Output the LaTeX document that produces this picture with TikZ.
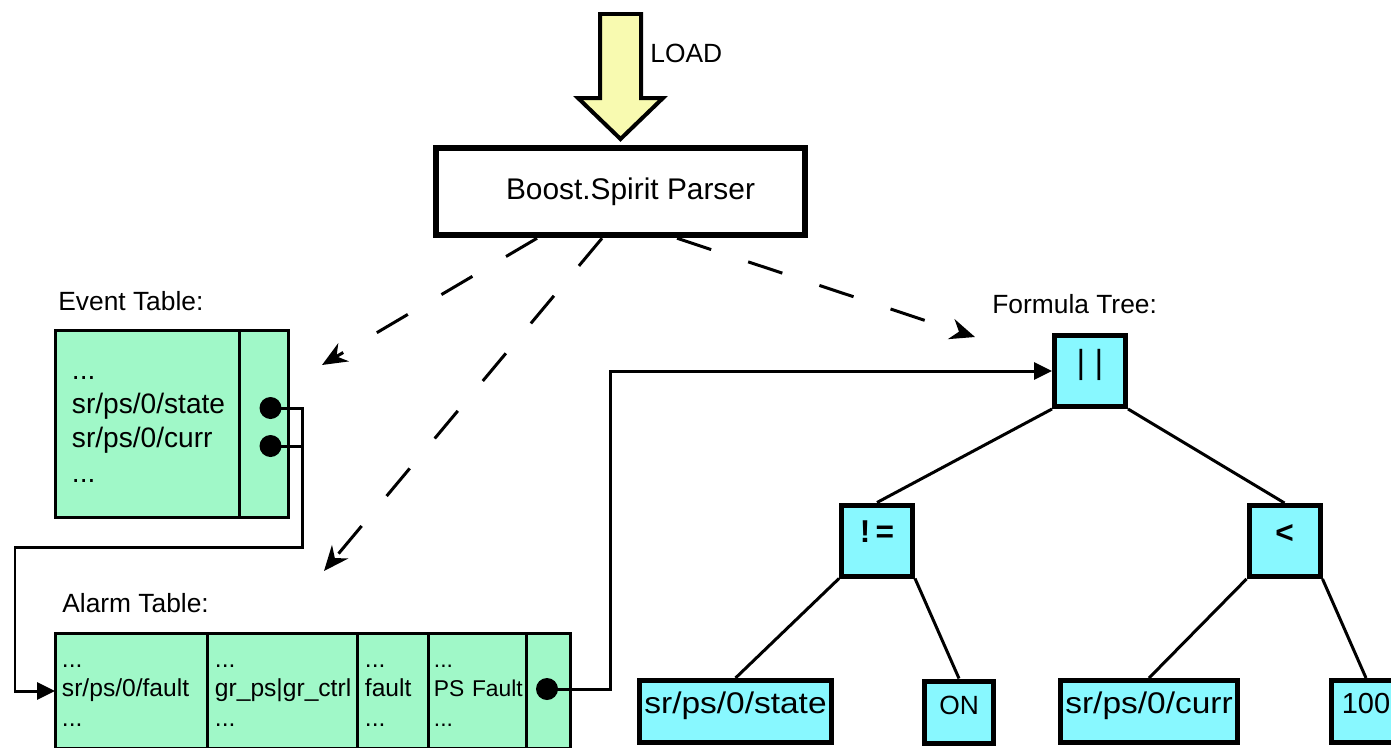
\documentclass[tikz,border=0pt]{standalone}
\usepackage{fontspec}
\setmainfont{Liberation Sans}
\newfontfamily\leaffont[FakeStretch=1.12]{Liberation Sans}
\usetikzlibrary{positioning,arrows.meta}
\definecolor{mint}{RGB}{160,248,200}
\definecolor{treecyan}{RGB}{136,248,255}
\definecolor{loadyellow}{RGB}{248,250,176}

\begin{document}
\begin{tikzpicture}[
        x=0.02cm, y=-0.02cm,
        tablabel/.style={anchor=base west, inner sep=0pt, font=\fontsize{15}{18}\selectfont},
        parserbox/.style={rectangle, draw=black, line width=0.13cm, fill=white, minimum width=7.38cm, minimum height=1.74cm, font=\fontsize{17}{20}\selectfont},
        tabcell/.style={rectangle, draw=black, line width=0.06cm, fill=mint, outer sep=0pt, align=left, inner xsep=0.14cm, inner ysep=0pt, font=\fontsize{14}{17}\selectfont},
        plug/.style={circle, fill=black, inner sep=0pt, minimum size=0.44cm},
        opbox/.style={rectangle, draw=black, line width=0.1cm, fill=treecyan, minimum size=1.42cm, text height=0.3cm, text depth=0.22cm, font=\bfseries\fontsize{18}{20}\selectfont},
        leafbox/.style={rectangle, draw=black, line width=0.1cm, fill=treecyan, minimum height=1.24cm, inner xsep=0pt, text height=0.3cm, text depth=0.22cm, font=\leaffont\fontsize{17}{20}\selectfont},
        treeline/.style={draw, line width=0.06cm},
        wire/.style={draw, line width=0.06cm},
        wirearrow/.style={wire, -{Triangle[length=0.36cm, width=0.34cm]}},
        dasharrow/.style={line width=0.06cm, dash pattern=on 0.72cm off 0.78cm, -{Stealth[length=0.5cm, width=0.42cm]}}
    ]
        \useasboundingbox (0,0) rectangle (1391,747);

        % load arrow and parser
        \draw[line width=0.08cm, fill=loadyellow] (600,14) -- (641,14) -- (641,98) -- (663,98) -- (620.5,139) -- (578,98) -- (600,98) -- cycle;
        \node[tablabel] (loadtxt) at (650,62) {LOAD};
        \node[parserbox] (parser) at (620.5,191.5) {\hspace*{0.4cm}Boost.Spirit Parser};

        % event table
        \node[tabcell, anchor=north west, minimum width=3.7cm, minimum height=3.76cm, text width=3.02cm, inner xsep=0.34cm, font=\fontsize{16}{19.5}\selectfont] (et1) at (55,330) {\strut...\\sr/ps/0/state\\sr/ps/0/curr\\...\strut};
        \node[tabcell, right=0pt of et1, minimum width=0.98cm, minimum height=3.76cm] (et2) {};
        \node[plug] (estate) at (270.5,408) {};
        \node[plug] (ecurr) at (270.5,446) {};
        \node[tablabel] (etcap) at ([xshift=0.06cm, yshift=0.4cm]et1.north west) {Event Table:};

        % alarm table
        \node[tabcell, anchor=north west, minimum width=3.06cm, minimum height=2.32cm, text width=2.78cm] (at1) at (55,633) {\strut...\\sr/ps/0/fault\\...\strut};
        \node[tabcell, right=0pt of at1, minimum width=3.0cm, minimum height=2.32cm, text width=2.72cm] (at2) {\strut...\\gr\_ps|gr\_ctrl\\...\strut};
        \node[tabcell, right=0pt of at2, minimum width=1.42cm, minimum height=2.32cm, text width=1.14cm] (at3) {\strut...\\fault\\...\strut};
        \node[tabcell, right=0pt of at3, minimum width=1.96cm, minimum height=2.32cm, text width=1.76cm, inner xsep=0.1cm, font=\fontsize{13}{17}\selectfont] (at4) {\strut...\\PS~Fault\\...\strut};
        \node[tabcell, right=0pt of at4, minimum width=0.88cm, minimum height=2.32cm] (at5) {};
        \node[plug] (adot) at (547,689) {};
        \node[tablabel] (atcap) at ([xshift=0.14cm, yshift=0.42cm]at1.north west) {Alarm Table:};

        % formula tree
        \node[opbox, font=\fontsize{19}{22}\selectfont] (or) at (1090,371) {| |};
        \node[opbox] (ne) at (877,540.5) {!\,=};
        \node[opbox] (lt) at (1284.5,541) {<};
        \node[leafbox, minimum width=3.84cm] (lstate) at (735.5,711.5) {sr/ps/0/state};
        \node[leafbox, minimum width=1.38cm, font=\fontsize{15}{18}\selectfont] (lon) at (959,712) {ON};
        \node[leafbox, minimum width=3.54cm] (lcurr) at (1149,711.5) {sr/ps/0/curr};
        \node[leafbox, minimum width=1.38cm, font=\fontsize{16.5}{20}\selectfont] (lhundred) at (1366,711.5) {100};
        \node[tablabel] (ftcap) at ([xshift=-1.2cm, yshift=0.4cm]or.north west) {Formula Tree:};

        \draw[treeline] (or.south west) -- (ne.north);
        \draw[treeline] (or.south east) -- (lt.north);
        \draw[treeline] (ne.south west) -- (lstate.north);
        \draw[treeline] (ne.south east) -- (lon.north);
        \draw[treeline] (lt.south west) -- (lcurr.north);
        \draw[treeline] (lt.south east) -- (lhundred.north);

        % parser output
        \coordinate (etin) at (322,365);
        \coordinate (atin) at (324,571);
        \coordinate (ftin) at (975,337);
        \draw[dasharrow] ([xshift=-1.67cm]parser.south) -- (etin);
        \draw[dasharrow] ([xshift=-0.37cm]parser.south) -- (atin);
        \draw[dasharrow] ([xshift=1.13cm]parser.south) -- (ftin);

        % references
        \coordinate (ebend) at (302,547);
        \coordinate (aleft) at (15,547);
        \coordinate (abend) at (610,371);
        \draw[wirearrow] (estate.center) -| (ebend) -- (aleft) |- (at1.west);
        \draw[wire] (ecurr.center) -- (ecurr.center -| ebend);
        \draw[wirearrow] (adot.center) -| (abend) -- (or.west);
    \end{tikzpicture}
\end{document}
